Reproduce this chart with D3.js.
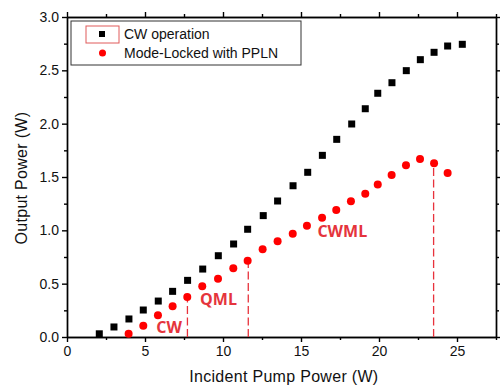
<!DOCTYPE html>
<html>
<head>
<meta charset="utf-8">
<script src="https://cdn.jsdelivr.net/npm/d3@7"></script>
<style>
  body { margin: 0; background: #fff; }
  svg { display: block; }
  .axis text { font-family: "Liberation Sans", Arial, sans-serif; font-size: 14px; fill: #111; }
  .axis path, .axis line { stroke: #000; stroke-width: 1.4; }
  .title { font-family: "Liberation Sans", Arial, sans-serif; font-size: 16px; fill: #111; letter-spacing: 0.3px; }
  .legend text { font-family: "Liberation Sans", Arial, sans-serif; font-size: 14px; fill: #111; }
  .region { font-family: "Open Sans", sans-serif; font-weight: bold; font-size: 16px; fill: #e5343c; }
</style>
</head>
<body>
<div id="chart"></div>
<script>
// CW operation (black squares)
const cwPump = [2.07, 3.01, 3.97, 4.89, 5.85, 6.77, 7.73, 8.70, 9.70, 10.68, 11.58, 12.58, 13.50,
                14.49, 15.43, 16.37, 17.29, 18.25, 19.12, 19.92, 20.83, 21.75, 22.65, 23.53, 24.40, 25.34];
const cwOut  = [0.03, 0.094, 0.169, 0.253, 0.337, 0.428, 0.531, 0.637, 0.762, 0.872, 1.01, 1.138, 1.275,
                1.418, 1.544, 1.703, 1.853, 1.997, 2.14, 2.285, 2.384, 2.497, 2.60, 2.669, 2.728, 2.744];

// Mode-locked with PPLN (red circles)
const mlPump = [3.95, 4.89, 5.83, 6.77, 7.71, 8.67, 9.68, 10.66, 11.58, 12.54, 13.50, 14.47,
                15.38, 16.35, 17.26, 18.20, 19.12, 19.92, 20.81, 21.73, 22.63, 23.53, 24.40];
const mlOut  = [0.03, 0.106, 0.203, 0.288, 0.375, 0.475, 0.547, 0.644, 0.716, 0.822, 0.897, 0.969,
                1.044, 1.118, 1.19, 1.272, 1.344, 1.43, 1.519, 1.61, 1.668, 1.628, 1.538];

// regime boundaries (dashed lines) and labels
const boundPump = [7.72, 11.62, 23.50];
const boundOut  = [0.375, 0.716, 1.628];
const regionNames = ["CW", "QML", "CWML"];
const regionPump  = [5.72, 8.53, 16.05];
const regionOut   = [0.037, 0.30, 0.94];

const xTicks = [0, 5, 10, 15, 20, 25];
const xMinor = [2.5, 7.5, 12.5, 17.5, 22.5, 27.5];
const yTicks = [0, 0.5, 1.0, 1.5, 2.0, 2.5, 3.0];
const yMinor = [0.25, 0.75, 1.25, 1.75, 2.25, 2.75];

const legendLabels = ["CW operation", "Mode-Locked with PPLN"];

const W = 500, H = 388;
const margin = {top: 17, right: 4, bottom: 51, left: 67};
const width = W - margin.left - margin.right;
const height = H - margin.top - margin.bottom;

const svg = d3.select("#chart").append("svg")
    .attr("width", W)
    .attr("height", H);

const g = svg.append("g")
    .attr("transform", `translate(${margin.left},${margin.top})`);

const x = d3.scaleLinear().domain([0, 27.5]).range([0, width]);
const y = d3.scaleLinear().domain([0, 3.0]).range([height, 0]);

// axes - major with labels, minor without
g.append("g").attr("class", "axis")
    .attr("transform", `translate(0,${height})`)
    .call(d3.axisBottom(x).tickValues(xTicks).tickSize(5).tickSizeOuter(0).tickPadding(4).tickFormat(d3.format("d")));
g.append("g").attr("class", "axis")
    .attr("transform", `translate(0,${height})`)
    .call(d3.axisBottom(x).tickValues(xMinor).tickSize(3).tickSizeOuter(0).tickFormat(""));

g.append("g").attr("class", "axis")
    .call(d3.axisTop(x).tickValues(xTicks).tickSize(5).tickSizeOuter(0).tickFormat(""));
g.append("g").attr("class", "axis")
    .call(d3.axisTop(x).tickValues(xMinor).tickSize(3).tickSizeOuter(0).tickFormat(""));

g.append("g").attr("class", "axis")
    .call(d3.axisLeft(y).tickValues(yTicks).tickSize(5).tickSizeOuter(0).tickPadding(3).tickFormat(d3.format(".1f")));
g.append("g").attr("class", "axis")
    .call(d3.axisLeft(y).tickValues(yMinor).tickSize(3).tickSizeOuter(0).tickFormat(""));

g.append("g").attr("class", "axis")
    .attr("transform", `translate(${width},0)`)
    .call(d3.axisRight(y).tickValues(yTicks).tickSize(4).tickSizeOuter(0).tickFormat(""));
g.append("g").attr("class", "axis")
    .attr("transform", `translate(${width},0)`)
    .call(d3.axisRight(y).tickValues(yMinor).tickSize(3).tickSizeOuter(0).tickFormat(""));

// axis titles
svg.append("text")
    .attr("class", "title")
    .attr("x", margin.left + x(13.9))
    .attr("y", 382)
    .attr("text-anchor", "middle")
    .text("Incident Pump Power (W)");

svg.append("text")
    .attr("class", "title")
    .attr("transform", `translate(27,${margin.top + y(1.49)}) rotate(-90)`)
    .attr("text-anchor", "middle")
    .text("Output Power (W)");

// dashed boundary lines
const bounds = boundPump.map((p, i) => ({p: p, o: boundOut[i]}));
g.selectAll(".bound")
    .data(bounds)
  .enter().append("line")
    .attr("class", "bound")
    .attr("x1", d => x(d.p))
    .attr("x2", d => x(d.p))
    .attr("y1", y(0))
    .attr("y2", d => y(d.o))
    .attr("stroke", "#e8323c")
    .attr("stroke-width", 1.3)
    .attr("stroke-dasharray", "8,3.5");

// CW squares
const cwData = cwPump.map((p, i) => ({p: p, o: cwOut[i]}));
const sq = 7;
g.selectAll(".cw")
    .data(cwData)
  .enter().append("rect")
    .attr("class", "cw")
    .attr("x", d => x(d.p) - sq / 2)
    .attr("y", d => y(d.o) - sq / 2)
    .attr("width", sq)
    .attr("height", sq)
    .attr("fill", "#000");

// mode-locked circles
const mlData = mlPump.map((p, i) => ({p: p, o: mlOut[i]}));
g.selectAll(".ml")
    .data(mlData)
  .enter().append("circle")
    .attr("class", "ml")
    .attr("cx", d => x(d.p))
    .attr("cy", d => y(d.o))
    .attr("r", 4)
    .attr("fill", "#ff0000");

// region labels
g.selectAll(".region")
    .data(regionNames)
  .enter().append("text")
    .attr("class", "region")
    .attr("x", (d, i) => x(regionPump[i]))
    .attr("y", (d, i) => y(regionOut[i]))
    .text(d => d);

// legend
const legend = svg.append("g").attr("class", "legend");
legend.append("rect")
    .attr("x", 71).attr("y", 21)
    .attr("width", 230).attr("height", 44)
    .attr("fill", "#fff")
    .attr("stroke", "#333")
    .attr("stroke-width", 1);
legend.append("rect")
    .attr("x", 86).attr("y", 26)
    .attr("width", 33).attr("height", 17)
    .attr("fill", "none")
    .attr("stroke", "#e05a5a")
    .attr("stroke-width", 1);
legend.append("rect")
    .attr("x", 99).attr("y", 31)
    .attr("width", 6).attr("height", 6)
    .attr("fill", "#000");
legend.append("circle")
    .attr("cx", 102.5).attr("cy", 53)
    .attr("r", 3.5)
    .attr("fill", "#ff0000");
legend.selectAll(".lab")
    .data(legendLabels)
  .enter().append("text")
    .attr("class", "lab")
    .attr("x", 124)
    .attr("y", (d, i) => 39 + i * 19)
    .text(d => d);
</script>
</body>
</html>
